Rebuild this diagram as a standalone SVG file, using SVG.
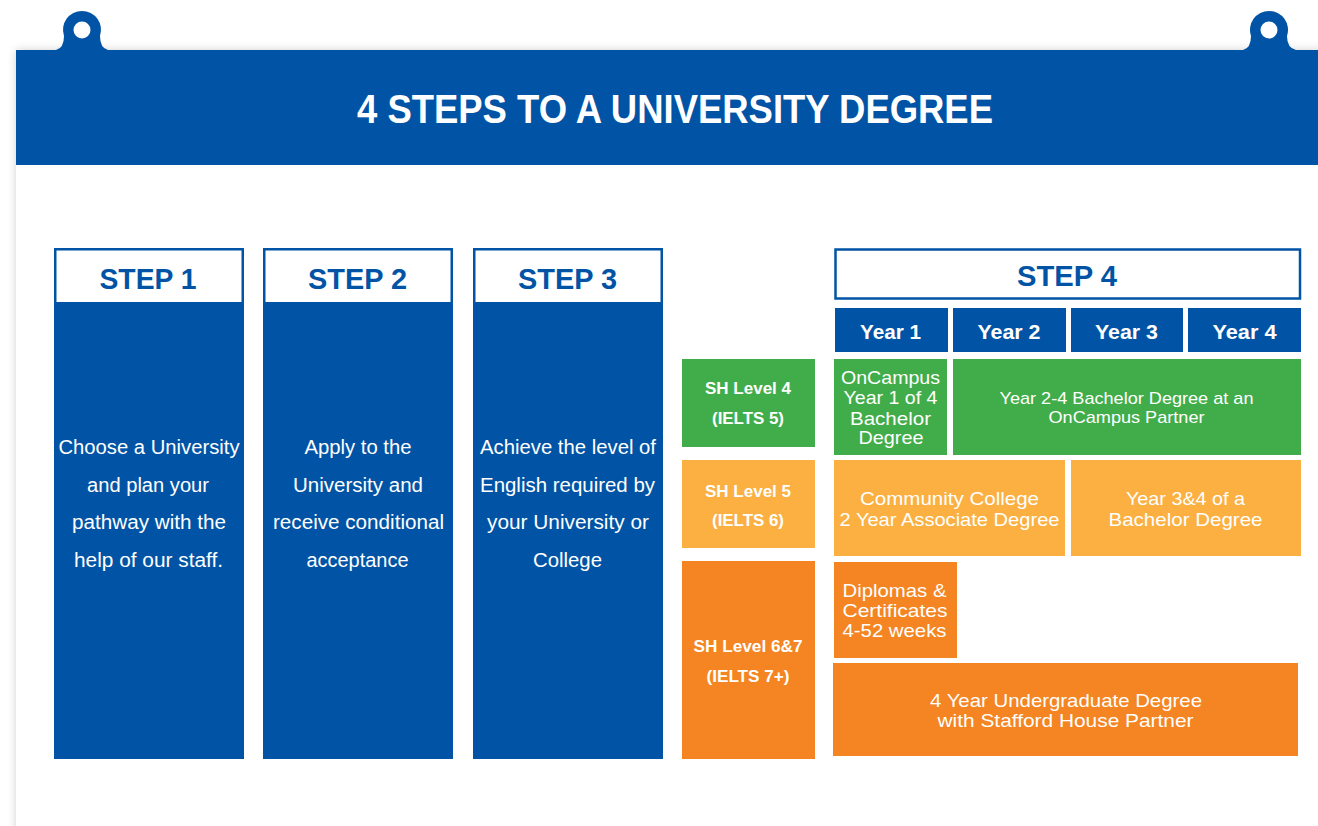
<svg xmlns="http://www.w3.org/2000/svg" width="1318" height="826" viewBox="0 0 1318 826">
<defs>
<style>
.blue{fill:#0154a5}
.green{fill:#41ad4a}
.lorange{fill:#fbb041}
.orange{fill:#f48522}
.t{font-family:"Liberation Sans",Arial,sans-serif;fill:#ffffff;text-anchor:middle}
.b{font-weight:bold}
.hd{font-family:"Liberation Sans",Arial,sans-serif;fill:#0154a5;font-weight:bold;text-anchor:middle}
.st{font-size:19.5px}
.bx{font-size:19px}
.sm{font-size:17px}
.lv{font-size:16.5px;font-weight:bold}
</style>
<filter id="sh" x="-5%" y="-5%" width="110%" height="110%">
<feGaussianBlur in="SourceAlpha" stdDeviation="5"/>
<feComponentTransfer><feFuncA type="linear" slope="0.18"/></feComponentTransfer>
<feMerge><feMergeNode/><feMergeNode in="SourceGraphic"/></feMerge>
</filter>
</defs>
<rect x="0" y="0" width="1318" height="826" fill="#ffffff"/>
<rect x="16" y="50" width="1330" height="800" fill="#ffffff" filter="url(#sh)"/>

<g id="banner">
<path class="blue" d="M56,50 Q64,48 64,36 A19,19 0 1 1 100,36 Q100,48 108,50 Z"/>
<circle cx="82" cy="30" r="8.5" fill="#ffffff"/>
<path class="blue" d="M1243,50 Q1251,48 1251,36 A19,19 0 1 1 1287,36 Q1287,48 1296,50 Z"/>
<circle cx="1269" cy="30" r="8.5" fill="#ffffff"/>
<rect class="blue" x="16" y="50" width="1302" height="115"/>
<text class="t b" x="675" y="123" font-size="40" textLength="636" lengthAdjust="spacingAndGlyphs">4 STEPS TO A UNIVERSITY DEGREE</text>
</g>

<g id="step1">
<rect class="blue" x="54" y="248" width="190" height="511"/>
<rect x="56.5" y="250.5" width="185" height="51.5" fill="#ffffff"/>
<text class="hd" x="148" y="289" font-size="29" textLength="97" lengthAdjust="spacingAndGlyphs">STEP 1</text>
<text class="t st" x="149" y="454" textLength="181" lengthAdjust="spacingAndGlyphs">Choose a University</text>
<text class="t st" x="148" y="492" textLength="122" lengthAdjust="spacingAndGlyphs">and plan your</text>
<text class="t st" x="149" y="529" textLength="154" lengthAdjust="spacingAndGlyphs">pathway with the</text>
<text class="t st" x="148.5" y="566.5" textLength="149" lengthAdjust="spacingAndGlyphs">help of our staff.</text>
</g>

<g id="step2">
<rect class="blue" x="263" y="248" width="190" height="511"/>
<rect x="265.5" y="250.5" width="185" height="51.5" fill="#ffffff"/>
<text class="hd" x="357.5" y="289" font-size="29" textLength="99" lengthAdjust="spacingAndGlyphs">STEP 2</text>
<text class="t st" x="358" y="454" textLength="107" lengthAdjust="spacingAndGlyphs">Apply to the</text>
<text class="t st" x="358" y="492" textLength="130" lengthAdjust="spacingAndGlyphs">University and</text>
<text class="t st" x="358.5" y="529" textLength="171" lengthAdjust="spacingAndGlyphs">receive conditional</text>
<text class="t st" x="357.5" y="566.5" textLength="102" lengthAdjust="spacingAndGlyphs">acceptance</text>
</g>

<g id="step3">
<rect class="blue" x="473" y="248" width="190" height="511"/>
<rect x="475.5" y="250.5" width="185" height="51.5" fill="#ffffff"/>
<text class="hd" x="567.5" y="289" font-size="29" textLength="99" lengthAdjust="spacingAndGlyphs">STEP 3</text>
<text class="t st" x="568" y="454" textLength="176" lengthAdjust="spacingAndGlyphs">Achieve the level of</text>
<text class="t st" x="567.5" y="492" textLength="175" lengthAdjust="spacingAndGlyphs">English required by</text>
<text class="t st" x="568" y="529" textLength="162" lengthAdjust="spacingAndGlyphs">your University or</text>
<text class="t st" x="567.5" y="566.5" textLength="69" lengthAdjust="spacingAndGlyphs">College</text>
</g>

<g id="step4">
<rect x="835.5" y="249.5" width="464.5" height="49" fill="#ffffff" stroke="#0154a5" stroke-width="2.5"/>
<text class="hd" x="1067" y="286" font-size="29" textLength="100" lengthAdjust="spacingAndGlyphs">STEP 4</text>
</g>

<g id="year1">
<rect class="blue" x="835" y="308" width="113" height="44"/>
<text class="t b" x="890.5" y="339" font-size="21" textLength="61" lengthAdjust="spacingAndGlyphs">Year 1</text>
</g>
<g id="year2">
<rect class="blue" x="953" y="308" width="113" height="44"/>
<text class="t b" x="1009" y="339" font-size="21" textLength="63" lengthAdjust="spacingAndGlyphs">Year 2</text>
</g>
<g id="year3">
<rect class="blue" x="1071" y="308" width="112" height="44"/>
<text class="t b" x="1126.5" y="339" font-size="21" textLength="63" lengthAdjust="spacingAndGlyphs">Year 3</text>
</g>
<g id="year4">
<rect class="blue" x="1188" y="308" width="113" height="44"/>
<text class="t b" x="1244.5" y="339" font-size="21" textLength="64" lengthAdjust="spacingAndGlyphs">Year 4</text>
</g>

<g id="sh-level-4">
<rect class="green" x="682" y="359" width="133" height="88"/>
<text class="t lv" x="748" y="394" textLength="86" lengthAdjust="spacingAndGlyphs">SH Level 4</text>
<text class="t lv" x="748" y="424" textLength="72" lengthAdjust="spacingAndGlyphs">(IELTS 5)</text>
</g>
<g id="sh-level-5">
<rect class="lorange" x="682" y="460" width="133" height="88"/>
<text class="t lv" x="748" y="496.5" textLength="86" lengthAdjust="spacingAndGlyphs">SH Level 5</text>
<text class="t lv" x="748" y="525.5" textLength="72" lengthAdjust="spacingAndGlyphs">(IELTS 6)</text>
</g>
<g id="sh-level-6-7">
<rect class="orange" x="682" y="561" width="133" height="198"/>
<text class="t lv" x="748" y="651.5" textLength="109" lengthAdjust="spacingAndGlyphs">SH Level 6&amp;7</text>
<text class="t lv" x="748" y="682" textLength="83" lengthAdjust="spacingAndGlyphs">(IELTS 7+)</text>
</g>

<g id="oncampus-year1">
<rect class="green" x="834" y="359" width="113" height="96"/>
<text class="t bx" x="890.5" y="384" textLength="99" lengthAdjust="spacingAndGlyphs">OnCampus</text>
<text class="t bx" x="890.5" y="404" textLength="94" lengthAdjust="spacingAndGlyphs">Year 1 of 4</text>
<text class="t bx" x="890.5" y="424.5" textLength="81" lengthAdjust="spacingAndGlyphs">Bachelor</text>
<text class="t bx" x="891" y="444" textLength="65" lengthAdjust="spacingAndGlyphs">Degree</text>
</g>
<g id="oncampus-partner">
<rect class="green" x="953" y="359" width="348" height="96"/>
<text class="t sm" x="1126.5" y="404" textLength="254" lengthAdjust="spacingAndGlyphs">Year 2-4 Bachelor Degree at an</text>
<text class="t sm" x="1126.5" y="423" textLength="156" lengthAdjust="spacingAndGlyphs">OnCampus Partner</text>
</g>

<g id="community-college">
<rect class="lorange" x="834" y="460" width="231" height="96"/>
<text class="t bx" x="949.5" y="505" textLength="179" lengthAdjust="spacingAndGlyphs">Community College</text>
<text class="t bx" x="949.5" y="525.5" textLength="220" lengthAdjust="spacingAndGlyphs">2 Year Associate Degree</text>
</g>
<g id="year-3-4">
<rect class="lorange" x="1071" y="460" width="230" height="96"/>
<text class="t bx" x="1185.5" y="505" textLength="119" lengthAdjust="spacingAndGlyphs">Year 3&amp;4 of a</text>
<text class="t bx" x="1185.5" y="525.5" textLength="154" lengthAdjust="spacingAndGlyphs">Bachelor Degree</text>
</g>

<g id="diplomas">
<rect class="orange" x="834" y="562" width="123" height="96"/>
<text class="t bx" x="894.5" y="596.5" textLength="104" lengthAdjust="spacingAndGlyphs">Diplomas &amp;</text>
<text class="t bx" x="895" y="616.5" textLength="105" lengthAdjust="spacingAndGlyphs">Certificates</text>
<text class="t bx" x="894.5" y="637" textLength="104" lengthAdjust="spacingAndGlyphs">4-52 weeks</text>
</g>
<g id="undergraduate">
<rect class="orange" x="833" y="663" width="465" height="93"/>
<text class="t bx" x="1066" y="707" textLength="272" lengthAdjust="spacingAndGlyphs">4 Year Undergraduate Degree</text>
<text class="t bx" x="1065.5" y="727" textLength="256" lengthAdjust="spacingAndGlyphs">with Stafford House Partner</text>
</g>

<g id="connectors"/>
</svg>
